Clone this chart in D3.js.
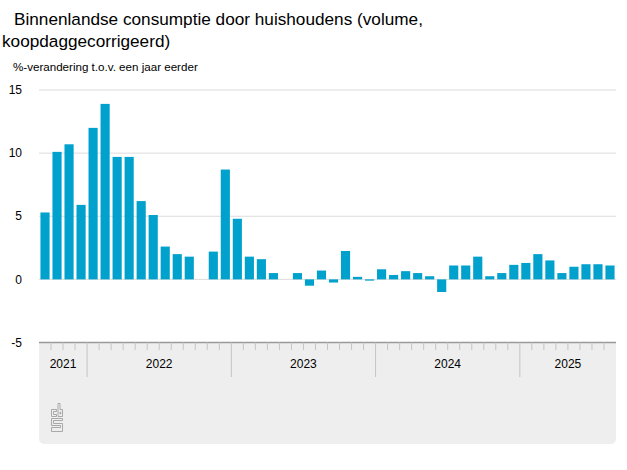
<!DOCTYPE html>
<html>
<head>
<meta charset="utf-8">
<script src="https://cdn.jsdelivr.net/npm/d3@7"></script>
<style>
  body { margin: 0; background: #fff; }
  text { font-family: "Liberation Sans", Arial, sans-serif; }
</style>
</head>
<body>
<svg id="chart"></svg>
<script>

// months shown, Sep 2021 .. Aug 2025
var months = [
    "2021-09", "2021-10", "2021-11", "2021-12",
    "2022-01", "2022-02", "2022-03", "2022-04", "2022-05", "2022-06",
    "2022-07", "2022-08", "2022-09", "2022-10", "2022-11", "2022-12",
    "2023-01", "2023-02", "2023-03", "2023-04", "2023-05", "2023-06",
    "2023-07", "2023-08", "2023-09", "2023-10", "2023-11", "2023-12",
    "2024-01", "2024-02", "2024-03", "2024-04", "2024-05", "2024-06",
    "2024-07", "2024-08", "2024-09", "2024-10", "2024-11", "2024-12",
    "2025-01", "2025-02", "2025-03", "2025-04", "2025-05", "2025-06",
    "2025-07", "2025-08"
];

// % change vs same month a year earlier
var values = [
    5.3, 10.1, 10.7, 5.9,
    12.0, 13.9, 9.7, 9.7, 6.2, 5.1,
    2.6, 2.0, 1.8, 0.0, 2.2, 8.7,
    4.8, 1.8, 1.6, 0.5, 0.0, 0.5,
    -0.5, 0.7, -0.25, 2.25, 0.2, -0.1,
    0.8, 0.35, 0.65, 0.5, 0.25, -1.0,
    1.1, 1.1, 1.8, 0.25, 0.5, 1.15,
    1.3, 2.0, 1.5, 0.5, 1.0, 1.2,
    1.2, 1.1
];

var years = ["2021", "2022", "2023", "2024", "2025"];
var yTicks = [-5, 0, 5, 10, 15];

var width = 627, height = 470;
var left = 39, right = 616;

var svg = d3.select("#chart")
    .attr("width", width)
    .attr("height", height);

// title, wrapped over two lines
svg.append("text")
    .attr("x", 14)
    .attr("y", 25)
    .style("font-size", "17.2px")
    .style("fill", "#000")
    .text("Binnenlandse consumptie door huishoudens (volume,");
svg.append("text")
    .attr("x", 2)
    .attr("y", 47)
    .style("font-size", "17.2px")
    .style("fill", "#000")
    .text("koopdaggecorrigeerd)");

svg.append("text")
    .attr("x", 13)
    .attr("y", 71)
    .style("font-size", "11.6px")
    .style("fill", "#000")
    .text("%-verandering t.o.v. een jaar eerder");

var x = d3.scaleBand()
    .domain(months)
    .range([left, right])
    .paddingInner(0.24)
    .paddingOuter(0.12);

var y = d3.scaleLinear()
    .domain([-5, 15])
    .range([342.5, 90]);

// gridlines + y labels
svg.append("g").selectAll("line")
    .data(yTicks.filter(function(d) { return d > -5; }))
    .enter().append("line")
    .attr("x1", left)
    .attr("x2", right)
    .attr("y1", function(d) { return y(d); })
    .attr("y2", function(d) { return y(d); })
    .style("stroke", "#dcdcdc")
    .style("stroke-width", 1);

svg.append("g").selectAll("text")
    .data(yTicks)
    .enter().append("text")
    .attr("x", 22)
    .attr("y", function(d) { return y(d); })
    .attr("dy", ".35em")
    .attr("text-anchor", "end")
    .style("font-size", "12px")
    .style("fill", "#000")
    .text(function(d) { return d; });

// bars
svg.append("g").selectAll("rect")
    .data(values)
    .enter().append("rect")
    .attr("x", function(d, i) { return x(months[i]); })
    .attr("width", x.bandwidth())
    .attr("y", function(d) { return y(Math.max(0, d)); })
    .attr("height", function(d) { return Math.abs(y(d) - y(0)); })
    .style("fill", "#00a1cd");

// grey axis panel with rounded bottom corners
var boxTop = 342.5, boxBottom = 444, r = 6;
svg.append("path")
    .attr("d", "M" + left + "," + boxTop +
        "H" + right +
        "V" + (boxBottom - r) +
        "Q" + right + "," + boxBottom + " " + (right - r) + "," + boxBottom +
        "H" + (left + r) +
        "Q" + left + "," + boxBottom + " " + left + "," + (boxBottom - r) +
        "Z")
    .style("fill", "#eeeeee");

svg.append("line")
    .attr("x1", left).attr("x2", right)
    .attr("y1", boxTop).attr("y2", boxTop)
    .style("stroke", "#9a9a9a")
    .style("stroke-width", 1.5);

var step = x.step();
var edge = function(i) { return left + i * step; };

// month ticks
svg.append("g").selectAll("line")
    .data(d3.range(1, months.length))
    .enter().append("line")
    .attr("x1", function(i) { return edge(i); })
    .attr("x2", function(i) { return edge(i); })
    .attr("y1", boxTop)
    .attr("y2", function(i) { return months[i].slice(5) === "01" ? 377 : 350; })
    .style("stroke", "#c4c4c4")
    .style("stroke-width", 1);

// year labels centred on their months
svg.append("g").selectAll("text")
    .data(years)
    .enter().append("text")
    .attr("x", function(yr) {
        var idx = months.map(function(m, i) { return m.slice(0, 4) === yr ? i : -1; })
            .filter(function(i) { return i >= 0; });
        return (edge(idx[0]) + edge(idx[idx.length - 1] + 1)) / 2;
    })
    .attr("y", 368)
    .attr("text-anchor", "middle")
    .style("font-size", "12px")
    .style("fill", "#000")
    .text(function(d) { return d; });

// small cbs logo
var logo = svg.append("g")
    .attr("transform", "translate(51.5,403.5)")
    .style("fill", "none")
    .style("stroke", "#a0a0a0")
    .style("stroke-width", 0.9);
logo.append("path").attr("d", "M5,6 H0 V13 H5 V11 H2 V8 H5 Z");
logo.append("path").attr("d", "M6.5,0 H8.5 V6 H11 V13 H6.5 Z M8.5,8.5 H9.2 V10.5 H8.5 Z");
logo.append("path").attr("d", "M11,15 H0 V22 H9 V24 H0 V28 H11 V20 H2 V17 H11 Z");

</script>
</body>
</html>
